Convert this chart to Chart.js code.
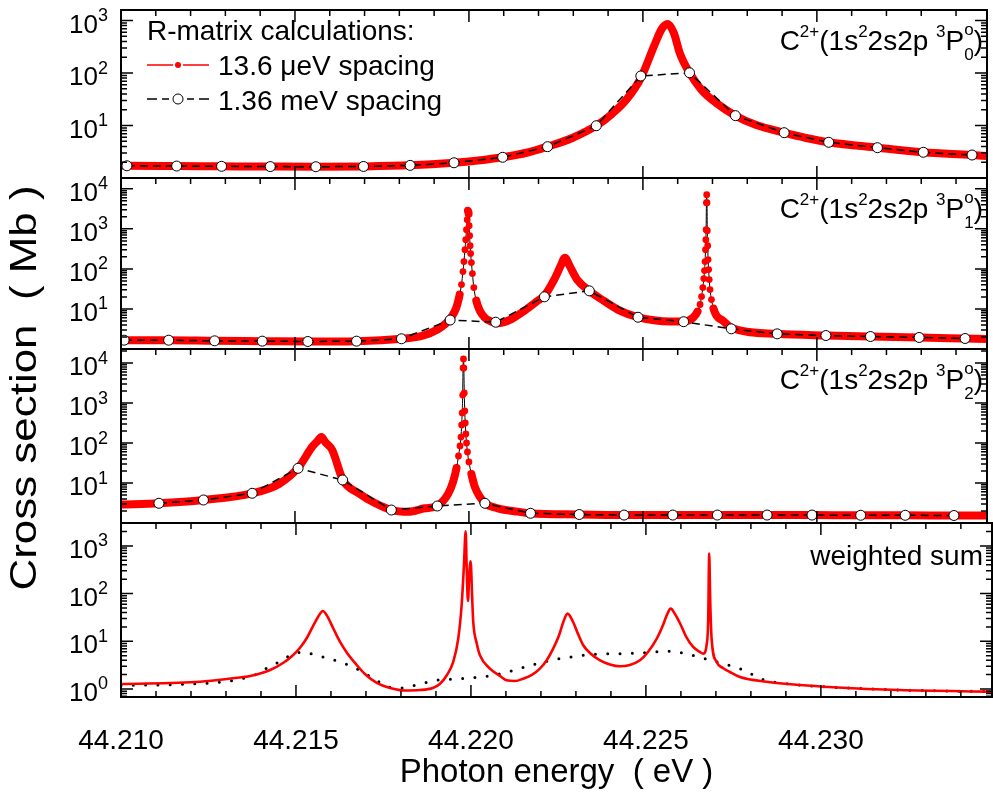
<!DOCTYPE html>
<html>
<head>
<meta charset="utf-8">
<script src="https://cdn.jsdelivr.net/npm/chart.js@4.4.0/dist/chart.umd.min.js"></script>
<style>
body { margin: 0; background: #fff; }
#wrap { position: relative; width: 993px; height: 797px; }
canvas { position: absolute; left: 0; top: 0; }
</style>
</head>
<body>
<div id="wrap">
<canvas id="p0" width="993" height="797"></canvas>
<canvas id="p1" width="993" height="797"></canvas>
<canvas id="p2" width="993" height="797"></canvas>
<canvas id="p3" width="993" height="797"></canvas>
</div>
<script>
// ---- data (photon energy in eV, cross section in Mb) ----

// panel 0: 3P0
const p0FineE = [44.21000, 44.21017, 44.21160, 44.21289, 44.21429, 44.21560, 44.21697, 44.21831, 44.21957, 44.22026,
  44.22097, 44.22169, 44.22226, 44.22297, 44.22366, 44.22411, 44.22454, 44.22494, 44.22531, 44.22554,
  44.22571, 44.22589, 44.22606, 44.22634, 44.22669, 44.22711, 44.22766, 44.22826, 44.22906, 44.22969,
  44.23034, 44.23174, 44.23306, 44.23446, 44.23489];
const p0FineV = [1.72, 1.71, 1.69, 1.67, 1.65, 1.64, 1.66, 1.74, 1.95, 2.15,
  2.48, 3.06, 3.95, 5.78, 9.9, 16.6, 32, 80, 313, 689,
  858, 578, 240, 101, 47.4, 26.8, 15.4, 10.2, 7.3, 5.78,
  4.79, 3.78, 3.09, 2.74, 2.62];
const p0CoarseE = [44.21017, 44.21160, 44.21289, 44.21429, 44.21560, 44.21697, 44.21831, 44.21957, 44.22097, 44.22226,
  44.22366, 44.22494, 44.22634, 44.22766, 44.22906, 44.23034, 44.23174, 44.23306, 44.23446];
const p0CoarseV = [1.71, 1.69, 1.67, 1.65, 1.64, 1.66, 1.74, 1.95, 2.48, 3.95,
  9.9, 87.7, 101, 15.4, 7.3, 4.79, 3.78, 3.09, 2.74];

// panel 1: 3P1
const p1FineE = [44.21000, 44.21009, 44.21137, 44.21269, 44.21406, 44.21537, 44.21677, 44.21806, 44.21869, 44.21911,
  44.21931, 44.21949, 44.219637, 44.219734, 44.219786, 44.219829, 44.219857, 44.219886, 44.219909, 44.219929,
  44.219951, 44.219971, 44.219991, 44.220006, 44.220020, 44.220034, 44.220049, 44.220071, 44.220100, 44.22014,
  44.22021, 44.22031, 44.22045, 44.22064, 44.22083, 44.22121, 44.22159, 44.22197, 44.22217, 44.22245,
  44.22264, 44.22276, 44.22289, 44.22311, 44.22346, 44.22388, 44.22435, 44.22486, 44.22531, 44.22578,
  44.22616, 44.226449, 44.226571, 44.226643, 44.226686, 44.226723, 44.226751, 44.226771, 44.226786, 44.226800,
  44.226809, 44.226817, 44.226826, 44.226834, 44.226843, 44.226851, 44.226863, 44.226874, 44.226889, 44.226906,
  44.226929, 44.226971, 44.227029, 44.227114, 44.227306, 44.227551, 44.22886, 44.23026, 44.23154, 44.23294,
  44.23426, 44.23489];
const p1FineV = [1.63, 1.66, 1.66, 1.60, 1.57, 1.54, 1.57, 1.80, 2.17, 3.12,
  4.15, 6.11, 10.8, 22.9, 40.6, 85.7, 152, 303, 538, 955,
  1690, 2840, 2390, 1200, 676, 381, 241, 144, 76.4, 34.2,
  16.2, 9.12, 6.11, 4.85, 4.40, 5.53, 8.97, 15.9, 21.6, 54.1,
  121, 191, 121, 54.1, 28.3, 15.9, 8.97, 6.21, 5.23, 4.85,
  4.85, 6.11, 8.61, 12.9, 20.4, 34.2, 57.3, 90.7, 152, 303,
  538, 955, 4500, 7130, 4500, 902, 381, 171, 96.2, 54.1,
  30.5, 17.1, 10.2, 6.84, 5.05, 3.34, 2.39, 2.17, 2.05, 1.94,
  1.83, 1.78];
const p1CoarseE = [44.21009, 44.21137, 44.21269, 44.21406, 44.21537, 44.21677, 44.21806, 44.21946, 44.22077, 44.22217,
  44.22346, 44.22486, 44.22617, 44.22754, 44.22886, 44.23026, 44.23154, 44.23294, 44.23426];
const p1CoarseV = [1.66, 1.66, 1.60, 1.57, 1.54, 1.57, 1.80, 5.29, 4.66, 20.1,
  28.3, 6.21, 4.80, 3.19, 2.39, 2.17, 2.05, 1.94, 1.83];

// panel 2: 3P2
const p2FineE = [44.21000, 44.21109, 44.21237, 44.21377, 44.21454, 44.21511, 44.21549, 44.21565, 44.21576, 44.21587,
  44.21607, 44.21638,
  44.21683, 44.21731, 44.21778, 44.21826, 44.21873, 44.21908, 44.21940, 44.219543, 44.219643, 44.219700,
  44.219743, 44.219771, 44.219791, 44.219806, 44.219820, 44.219831, 44.219843, 44.219854, 44.219866, 44.219880,
  44.219894, 44.219911, 44.219931, 44.219957, 44.220000, 44.220071, 44.220171, 44.220314, 44.220466, 44.220829,
  44.221400, 44.221763, 44.223171, 44.224457, 44.225857, 44.227143, 44.228571, 44.229857, 44.231257, 44.232543,
  44.233943, 44.234886];
const p2FineV = [2.90, 3.11, 3.76, 5.53, 9.44, 25.1, 79.4, 112, 141, 106,
  66.8, 11.9,
  5.53, 3.11, 2.11, 1.92, 2.33, 2.66, 5.31, 10.6, 23.7, 47.3,
  84.1, 141, 282, 562, 1580, 7500, 12600, 7500, 1780, 631,
  316, 168, 100, 59.6, 33.5, 16.8, 7.94, 4.47, 3.11, 2.33,
  1.92, 1.75, 1.63, 1.58, 1.58, 1.58, 1.58, 1.58, 1.56, 1.56,
  1.54, 1.54];
const p2CoarseE = [44.21109, 44.21237, 44.21377, 44.21509, 44.21637, 44.21777, 44.21909, 44.22046, 44.22177, 44.22317,
  44.22446, 44.22586, 44.22714, 44.22857, 44.22986, 44.23126, 44.23254, 44.23394];
const p2CoarseV = [3.11, 3.76, 5.53, 23.3, 11.9, 2.11, 2.66, 3.11, 1.75, 1.63,
  1.58, 1.58, 1.58, 1.58, 1.58, 1.56, 1.56, 1.54];

// panel 3: weighted sum
const p3FineE = [44.21000, 44.21226, 44.21320, 44.21369, 44.21426, 44.21463, 44.21489, 44.21511, 44.21531, 44.21549,
  44.21563, 44.21577, 44.21589, 44.21606, 44.21626, 44.21646, 44.21671, 44.21697, 44.21731, 44.21769,
  44.21811, 44.21854, 44.21891, 44.21911, 44.21931, 44.219494, 44.219637, 44.219734, 44.219800, 44.219849,
  44.219880, 44.219914, 44.219951, 44.219991, 44.220037, 44.220066, 44.220163, 44.220257, 44.220543, 44.22083,
  44.22102, 44.22126, 44.22149, 44.22174, 44.22197, 44.22217, 44.22235, 44.22251, 44.22264, 44.22276,
  44.22292, 44.22306, 44.22321, 44.22340, 44.22369, 44.22397, 44.22426, 44.22454, 44.22483, 44.22506,
  44.22531, 44.22549, 44.22560, 44.22571, 44.22583, 44.22597, 44.22614, 44.22635, 44.22654, 44.226637,
  44.226734, 44.226780, 44.226809, 44.226837, 44.226877, 44.227020, 44.22720, 44.22740, 44.227686, 44.228449,
  44.229400, 44.230343, 44.232257, 44.234886];
const p3FineV = [1.27, 1.42, 1.68, 1.87, 2.50, 3.51, 4.92, 7.25, 11.7, 21.0,
  32.4, 43.3, 34.0, 19.0, 9.68, 5.69, 3.35, 2.06, 1.34, 1.05,
  0.93, 0.95, 1.05, 1.27, 1.94, 3.68, 11.4, 57, 394, 2030,
  313, 70, 246, 478, 74, 25.4, 9.2, 5.09, 2.67, 1.87,
  1.52, 1.47, 1.64, 1.97, 2.67, 4.06, 7.0, 12.9, 25.4, 38,
  25.4, 14.3, 8.26, 5.69, 4.0, 3.27, 2.99, 3.19, 4.0, 5.97,
  11.4, 22.0, 35.7, 48.3, 37.4, 24.2, 12.9, 7.6, 6.0, 5.5,
  8.3, 28, 689, 74, 11.4, 3.68, 2.76, 2.27, 1.79, 1.42,
  1.21, 1.09, 0.95, 0.88];
const p3CoarseE = [44.21000, 44.21226, 44.21320, 44.21386, 44.21421, 44.21454, 44.21491, 44.21523, 44.21559, 44.21592,
  44.21628, 44.21662, 44.21697, 44.21732, 44.21767, 44.21802, 44.21835, 44.21871, 44.21905, 44.21940,
  44.22009, 44.22078, 44.22148, 44.22216, 44.22286, 44.22356, 44.22426, 44.22495, 44.22565, 44.22633,
  44.22702, 44.22769, 44.22840, 44.22908, 44.23034, 44.23226, 44.23489];
const p3CoarseV = [1.18, 1.30, 1.51, 2.03, 2.85, 3.74, 5.42, 5.89, 5.00, 4.40,
  3.63, 2.94, 2.13, 1.49, 1.09, 1.05, 1.17, 1.36, 1.54, 1.60,
  1.73, 2.03, 2.80, 3.81, 4.69, 5.35, 5.50, 5.77, 6.18, 5.09,
  3.68, 2.67, 1.54, 1.27, 1.09, 0.95, 0.88];

// axes
const xMin = 44.21, xMax = 44.23489;
const xMajorTicks = [44.210, 44.215, 44.220, 44.225, 44.230];
const xTickLabels = ['44.210', '44.215', '44.220', '44.225', '44.230'];
const yMins = [1, 1, 1, 0.679];
const yMaxs = [1585, 18620, 22390, 3020];
const panelLabels = ['0', '1', '2'];

// page layout (pixels)
const panelTop = [10, 178, 349, 523];
const panelBottom = [178, 349, 523, 697];
const FONT = "'Liberation Sans', Arial, Helvetica, sans-serif";
const RED = '#ff0000';

function pts(xs, ys) { return xs.map((x, i) => ({ x: x, y: ys[i] })); }

function steep(c) {
  return Math.abs(c.p1.y - c.p0.y) > 7 && Math.abs(c.p1.x - c.p0.x) < 3;
}

function drawRich(ctx, parts, x, y, size, align) {
  const small = Math.round(size * 0.62);
  const items = parts.map(([t, m]) => {
    if (m === 'stack') {
      const [a, b] = t.split('|');
      ctx.font = small + 'px ' + FONT;
      return { t, m, w: Math.max(ctx.measureText(a).width, ctx.measureText(b).width) };
    }
    ctx.font = (m ? small : size) + 'px ' + FONT;
    return { t, m, w: ctx.measureText(t).width };
  });
  const total = items.reduce((s, it) => s + it.w, 0);
  let cx = align === 'right' ? x - total : x;
  ctx.textAlign = 'left';
  ctx.textBaseline = 'alphabetic';
  ctx.fillStyle = '#000';
  items.forEach(it => {
    if (it.m === 'stack') {
      const [a, b] = it.t.split('|');
      ctx.font = small + 'px ' + FONT;
      ctx.fillText(a, cx, y - size * 0.55);
      ctx.fillText(b, cx, y + size * 0.34);
    } else if (it.m === 'sup') {
      ctx.font = small + 'px ' + FONT;
      ctx.fillText(it.t, cx, y - size * 0.46);
    } else {
      ctx.font = size + 'px ' + FONT;
      ctx.fillText(it.t, cx, y);
    }
    cx += it.w;
  });
}

function framePlugin(idx) {
  return {
    id: 'frame' + idx,
    afterDraw(chart) {
      const ctx = chart.ctx, a = chart.chartArea;
      const xs = chart.scales.x, ys = chart.scales.y;
      ctx.save();
      ctx.strokeStyle = '#000';
      // ticks
      ctx.lineWidth = 1.5;
      ctx.beginPath();
      for (let v = 44.211; v < xMax; v += 0.001) {
        const px = xs.getPixelForValue(v);
        ctx.moveTo(px, a.top); ctx.lineTo(px, a.top + 6);
        if (idx === 3) { ctx.moveTo(px, a.bottom); ctx.lineTo(px, a.bottom - 6); }
      }
      xMajorTicks.forEach(v => {
        const px = xs.getPixelForValue(v);
        ctx.moveTo(px, a.top); ctx.lineTo(px, a.top + 12);
        ctx.moveTo(px, a.bottom); ctx.lineTo(px, a.bottom - 12);
      });
      const k0 = Math.floor(Math.log10(yMins[idx])), k1 = Math.ceil(Math.log10(yMaxs[idx]));
      const labels = [];
      for (let k = k0; k <= k1; k++) {
        for (let m = 1; m <= 9; m++) {
          const v = m * Math.pow(10, k);
          if (v < yMins[idx] || v > yMaxs[idx]) continue;
          const py = ys.getPixelForValue(v);
          const len = m === 1 ? 12 : 6;
          ctx.moveTo(a.left, py); ctx.lineTo(a.left + len, py);
          ctx.moveTo(a.right, py); ctx.lineTo(a.right - len, py);
          if (m === 1 && py > a.top + 3 && py < a.bottom - 3) labels.push([k, py]);
        }
      }
      ctx.stroke();
      // frame
      ctx.lineWidth = 2;
      ctx.strokeRect(a.left, a.top, a.right - a.left, a.bottom - a.top);
      // y tick labels 10^k
      ctx.fillStyle = '#000';
      ctx.textBaseline = 'alphabetic';
      ctx.textAlign = 'left';
      labels.forEach(([k, py]) => {
        ctx.font = '18px ' + FONT;
        const ew = ctx.measureText(String(k)).width;
        ctx.font = '26px ' + FONT;
        const bw = ctx.measureText('10').width;
        const x0 = 108 - ew - bw;
        ctx.fillText('10', x0, py + 12);
        ctx.font = '18px ' + FONT;
        ctx.fillText(String(k), x0 + bw, py + 0.5);
      });
      // panel annotation
      if (idx < 3) {
        drawRich(ctx, [['C'], ['2+', 'sup'], ['(1s'], ['2', 'sup'], ['2s2p '], ['3', 'sup'], ['P'],
          ['o|' + panelLabels[idx], 'stack'], [')']], 983, panelTop[idx] + 40, 28, 'right');
      } else {
        ctx.font = '28px ' + FONT;
        ctx.textAlign = 'right';
        ctx.fillText('weighted sum', 983, 565);
        // y axis title
        ctx.save();
        ctx.translate(26, 388);
        ctx.rotate(-Math.PI / 2);
        ctx.scale(1.22, 1);
        ctx.textAlign = 'center';
        ctx.textBaseline = 'middle';
        ctx.font = '36px ' + FONT;
        ctx.fillText('Cross section  ( Mb )', 0, 0);
        ctx.restore();
      }
      if (idx === 0) {
        // legend
        ctx.font = '28px ' + FONT;
        ctx.textAlign = 'left';
        ctx.fillText('R-matrix calculations:', 147, 40);
        ctx.fillText('13.6 \u03bceV spacing', 218, 75);
        ctx.fillText('1.36 meV spacing', 218, 110);
        ctx.lineWidth = 1.5;
        ctx.strokeStyle = RED;
        ctx.beginPath();
        ctx.moveTo(147, 65); ctx.lineTo(173, 65);
        ctx.moveTo(183, 65); ctx.lineTo(209, 65);
        ctx.stroke();
        ctx.fillStyle = RED;
        ctx.beginPath(); ctx.arc(178, 65, 3, 0, Math.PI * 2); ctx.fill();
        ctx.strokeStyle = '#000';
        ctx.beginPath();
        ctx.moveTo(147, 99); ctx.lineTo(157, 99);
        ctx.moveTo(162, 99); ctx.lineTo(169, 99);
        ctx.moveTo(187, 99); ctx.lineTo(194, 99);
        ctx.moveTo(199, 99); ctx.lineTo(209, 99);
        ctx.stroke();
        ctx.fillStyle = '#fff';
        ctx.lineWidth = 1;
        ctx.beginPath(); ctx.arc(178, 99, 5, 0, Math.PI * 2); ctx.fill(); ctx.stroke();
      }
      ctx.restore();
    }
  };
}

Chart.defaults.font.family = FONT;
Chart.defaults.color = '#000';

const fineSets = [[p0FineE, p0FineV], [p1FineE, p1FineV], [p2FineE, p2FineV], [p3FineE, p3FineV]];
const coarseSets = [[p0CoarseE, p0CoarseV], [p1CoarseE, p1CoarseV], [p2CoarseE, p2CoarseV], [p3CoarseE, p3CoarseV]];

for (let i = 0; i < 4; i++) {
  const last = i === 3;
  const fine = last ? {
    data: pts(fineSets[i][0], fineSets[i][1]),
    borderColor: RED, borderWidth: 2.6, pointRadius: 0, order: 1,
    borderJoinStyle: 'round', cubicInterpolationMode: 'monotone'
  } : {
    data: pts(fineSets[i][0], fineSets[i][1]),
    borderColor: RED, borderWidth: 8, order: 2,
    borderJoinStyle: 'round', borderCapStyle: 'round',
    cubicInterpolationMode: 'monotone',
    pointRadius: 3.4, pointBackgroundColor: RED, pointBorderWidth: 0,
    segment: {
      borderColor: c => steep(c) ? '#000' : RED,
      borderWidth: c => steep(c) ? 1 : 8
    }
  };
  const coarse = last ? {
    data: pts(coarseSets[i][0], coarseSets[i][1]),
    borderColor: '#000', borderWidth: 3, borderDash: [0, 12.3], borderCapStyle: 'round',
    cubicInterpolationMode: 'monotone',
    pointRadius: 0, order: 2
  } : {
    data: pts(coarseSets[i][0], coarseSets[i][1]),
    borderColor: '#000', borderWidth: 1.5, borderDash: [8, 5],
    pointRadius: 5, pointBackgroundColor: '#fff', pointBorderColor: '#000', pointBorderWidth: 1,
    order: 1
  };
  const xScale = {
    type: 'linear', min: xMin, max: xMax,
    display: last,
    grid: { display: false, drawTicks: false },
    border: { display: false }
  };
  if (last) {
    xScale.afterBuildTicks = s => { s.ticks = xMajorTicks.map(v => ({ value: v })); };
    xScale.afterFit = s => { s.height = 100; };
    xScale.ticks = {
      autoSkip: false, maxRotation: 0, padding: 27,
      font: { size: 28 }, color: '#000',
      callback: (v, idx) => xTickLabels[idx]
    };
    xScale.title = {
      display: true, text: 'Photon energy  ( eV )',
      font: { size: 33 }, color: '#000',
      padding: { top: 0, bottom: 4 }
    };
  }
  new Chart(document.getElementById('p' + i), {
    type: 'line',
    data: { datasets: [fine, coarse] },
    options: {
      responsive: false,
      animation: false,
      devicePixelRatio: 1,
      events: [],
      layout: { padding: { left: 121, right: 1, top: panelTop[i], bottom: last ? 0 : 797 - panelBottom[i] } },
      plugins: { legend: { display: false }, tooltip: { enabled: false } },
      scales: {
        x: xScale,
        y: {
          type: 'logarithmic', min: yMins[i], max: yMaxs[i],
          display: false
        }
      }
    },
    plugins: [framePlugin(i)]
  });
}
</script>
</body>
</html>
